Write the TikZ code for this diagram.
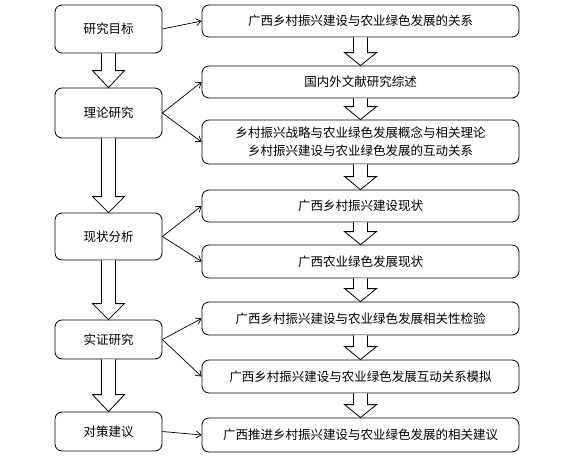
\documentclass[tikz,border=0pt]{standalone}
\usepackage{fontspec}
\newfontfamily\cjk{Noto Sans CJK SC}
\usetikzlibrary{calc, positioning, arrows.meta}
\tikzstyle{stage-box}=[
draw,
line width=0.8pt,
rounded corners=7pt,
minimum width=107pt,
inner sep=0pt,
font=\cjk\fontsize{12.5}{18}\selectfont,
]
\tikzstyle{content-box}=[
draw,
line width=0.8pt,
rounded corners=7pt,
minimum width=317pt,
inner sep=0pt,
align=center,
font=\cjk\fontsize{12.5}{18}\selectfont,
]
\tikzstyle{block-arrow}=[
draw,
line width=0.8pt,
fill=white,
]
\tikzstyle{link}=[
-{Straight Barb[length=5pt,width=7pt]},
line width=0.7pt,
]

\begin{document}
\begin{tikzpicture}[x=1pt, y=-1pt]
        \newcommand{\blockarrow}[3]
        {
          \draw[block-arrow] ($(#1.south)+(-7,0)$) -- ($(#2.north)+(-7,-#3)$)
            -- ($(#2.north)+(-16,-#3)$) -- (#2.north) -- ($(#2.north)+(16,-#3)$)
            -- ($(#2.north)+(7,-#3)$) -- ($(#1.south)+(7,0)$);
        }
        \useasboundingbox (0,0) rectangle (579,461);

        % stages
        \begin{scope}[every node/.style=stage-box]
          \node[minimum height=48pt] (goal) at (108.5,29) {研究目标};
          \node[minimum height=50pt] (theory) at (108.5,113) {理论研究};
          \node[minimum height=47pt] (status) at (108.5,236.5) {现状分析};
          \node[minimum height=39pt] (empiric) at (108.5,339.5) {实证研究};
          \node[minimum height=39pt] (advice) at (108.5,431.5) {对策建议};
        \end{scope}

        % contents
        \begin{scope}[every node/.style=content-box]
          \node[minimum height=32pt] (c1) at (360.5,21) {广西乡村振兴建设与农业绿色发展的关系};
          \node[minimum height=32pt] (c2) at (360.5,82) {国内外文献研究综述};
          \node[minimum height=44pt] (c3) at (360.5,142) {乡村振兴战略与农业绿色发展概念与相关理论\\乡村振兴建设与农业绿色发展的互动关系};
          \node[minimum height=32pt] (c4) at (360.5,206) {广西乡村振兴建设现状};
          \node[minimum height=33pt] (c5) at (360.5,261.5) {广西农业绿色发展现状};
          \node[minimum height=33pt] (c6) at (360.5,318.5) {广西乡村振兴建设与农业绿色发展相关性检验};
          \node[minimum height=33pt] (c7) at (360.5,376.5) {广西乡村振兴建设与农业绿色发展互动关系模拟};
          \node[minimum height=34pt] (c8) at (360.5,435) {广西推进乡村振兴建设与农业绿色发展的相关建议};
        \end{scope}

        \blockarrow{goal}{theory}{17}
        \blockarrow{theory}{status}{16}
        \blockarrow{status}{empiric}{16}
        \blockarrow{empiric}{advice}{17}
        \foreach \a/\b in {c1/c2, c2/c3, c3/c4, c4/c5, c5/c6, c6/c7, c7/c8}
          {\blockarrow{\a}{\b}{13}}

        \draw[link] (goal.east) -- (c1.west);
        \draw[link] (theory.east) -- (c2.west);
        \draw[link] (theory.east) -- (c3.west);
        \draw[link] (status.east) -- (c4.west);
        \draw[link] (status.east) -- (c5.west);
        \draw[link] (empiric.east) -- (c6.west);
        \draw[link] (empiric.east) -- (c7.west);
        \draw[link] (advice.east) -- (c8.west);
      \end{tikzpicture}
\end{document}
